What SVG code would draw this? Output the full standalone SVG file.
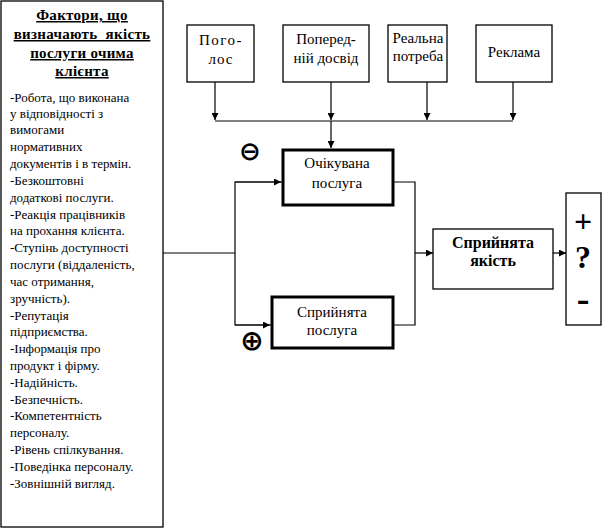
<svg xmlns="http://www.w3.org/2000/svg" width="602" height="530" viewBox="0 0 602 530">
<style>
  .t { font-size: 13px; }
  .h { font-size: 15px; font-weight: bold; text-decoration: underline; text-anchor: middle; letter-spacing: 0.3px; }
  .n { font-size: 15px; text-anchor: middle; }
  .b { font-size: 16px; font-weight: bold; text-anchor: middle; }
  .s { font-size: 32px; font-weight: bold; text-anchor: middle; }
  .box { fill: #fff; stroke: #000; stroke-width: 1.3; }
  .thick { fill: #fff; stroke: #000; stroke-width: 3; }
  .ln { fill: none; stroke: #000; stroke-width: 1.2; }
</style>
<defs>
  <marker id="ar" viewBox="0 0 10 10" refX="10" refY="5" markerWidth="7" markerHeight="7" markerUnits="userSpaceOnUse" orient="auto">
    <path d="M0,0 L10,5 L0,10 z" fill="#000"/>
  </marker>
</defs>
<rect width="602" height="530" fill="#fff"/>

<g id="connectors">
  <line class="ln" x1="215" y1="82" x2="215" y2="120" marker-end="url(#ar)"/>
  <line class="ln" x1="331" y1="82" x2="331" y2="120" marker-end="url(#ar)"/>
  <line class="ln" x1="427" y1="82" x2="427" y2="120" marker-end="url(#ar)"/>
  <line class="ln" x1="513" y1="82" x2="513" y2="120" marker-end="url(#ar)"/>
  <line class="ln" x1="215" y1="121" x2="513" y2="121"/>
  <line class="ln" x1="331" y1="121" x2="331" y2="148" marker-end="url(#ar)"/>
  <line class="ln" x1="163" y1="253" x2="235" y2="253"/>
  <polyline class="ln" points="282,182 235,182 235,325 271,325"/>
  <line class="ln" x1="235" y1="182" x2="281" y2="182" marker-end="url(#ar)"/>
  <line class="ln" x1="235" y1="325" x2="270" y2="325" marker-end="url(#ar)"/>
  <polyline class="ln" points="393,182 415,182 415,325 393,325"/>
  <line class="ln" x1="415" y1="253" x2="433" y2="253" marker-end="url(#ar)"/>
  <line class="ln" x1="553" y1="253" x2="566" y2="253" marker-end="url(#ar)"/>
</g>

<g font-family="'Liberation Serif', 'Times New Roman', serif" fill="#000">
<g id="factors">
  <rect class="box" x="1" y="1" width="162" height="526"/>
  <text class="h" x="82" y="20">Фактори, що</text>
  <text class="h" x="82" y="39" xml:space="preserve">визначають  якість</text>
  <text class="h" x="82" y="58">послуги очима</text>
  <text class="h" x="82" y="76">клієнта</text>
  <text class="t" x="10">
    <tspan x="10" y="102">-Робота, що виконана</tspan>
    <tspan x="10" y="118">у відповідності з</tspan>
    <tspan x="10" y="134">вимогами</tspan>
    <tspan x="10" y="151">нормативних</tspan>
    <tspan x="10" y="168">документів і в термін.</tspan>
    <tspan x="10" y="185">-Безкоштовні</tspan>
    <tspan x="10" y="202">додаткові послуги.</tspan>
    <tspan x="10" y="219">-Реакція працівників</tspan>
    <tspan x="10" y="235">на прохання клієнта.</tspan>
    <tspan x="10" y="252">-Ступінь доступності</tspan>
    <tspan x="10" y="269">послуги (віддаленість,</tspan>
    <tspan x="10" y="286">час отримання,</tspan>
    <tspan x="10" y="303">зручність).</tspan>
    <tspan x="10" y="320">-Репутація</tspan>
    <tspan x="10" y="336">підприємства.</tspan>
    <tspan x="10" y="353">-Інформація про</tspan>
    <tspan x="10" y="370">продукт і фірму.</tspan>
    <tspan x="10" y="387">-Надійність.</tspan>
    <tspan x="10" y="404">-Безпечність.</tspan>
    <tspan x="10" y="420">-Компетентність</tspan>
    <tspan x="10" y="437">персоналу.</tspan>
    <tspan x="10" y="454">-Рівень спілкування.</tspan>
    <tspan x="10" y="471">-Поведінка персоналу.</tspan>
    <tspan x="10" y="488">-Зовнішній вигляд.</tspan>
  </text>
</g>

<g id="pogolos">
  <rect class="box" x="187" y="25" width="67" height="57"/>
  <text class="n" x="221" y="45" letter-spacing="1.5">Пого-</text>
  <text class="n" x="221" y="64" letter-spacing="1">лос</text>
</g>
<g id="dosvid">
  <rect class="box" x="283" y="25" width="86" height="57"/>
  <text class="n" x="326" y="44">Поперед-</text>
  <text class="n" x="326" y="63">ній досвід</text>
</g>
<g id="potreba">
  <rect class="box" x="388" y="25" width="59" height="57"/>
  <text class="n" x="418" y="43">Реальна</text>
  <text class="n" x="418" y="61">потреба</text>
</g>
<g id="reklama">
  <rect class="box" x="476" y="25" width="76" height="57"/>
  <text class="n" x="514" y="57">Реклама</text>
</g>

<g id="ochikuvana">
  <rect class="thick" x="283" y="150" width="110" height="55"/>
  <text class="n" x="337" y="168">Очікувана</text>
  <text class="n" x="337" y="188">послуга</text>
</g>
<g id="spryinyata-posluga">
  <rect class="thick" x="272" y="297" width="121" height="51"/>
  <text class="n" x="332" y="317">Сприйнята</text>
  <text class="n" x="332" y="335">послуга</text>
</g>

<g id="spryinyata-yakist">
  <rect class="box" x="433" y="229" width="120" height="60"/>
  <text class="b" x="493" y="248">Сприйнята</text>
  <text class="b" x="493" y="266">якість</text>
</g>
<g id="result">
  <rect class="box" x="566" y="193" width="35" height="132"/>
  <text class="s" x="583" y="232">+</text>
  <text class="s" x="583" y="268">?</text>
  <text x="583" y="311" font-size="38" font-weight="bold" text-anchor="middle">-</text>
</g>
</g>

<g font-family="'DejaVu Sans', sans-serif" fill="#000">
<g id="minus-sign">
  <text x="250" y="160" font-size="26" font-weight="bold" text-anchor="middle">⊖</text>
</g>
<g id="plus-sign">
  <text x="252" y="350" font-size="28" font-weight="bold" text-anchor="middle">⊕</text>
</g>
</g>
</svg>
